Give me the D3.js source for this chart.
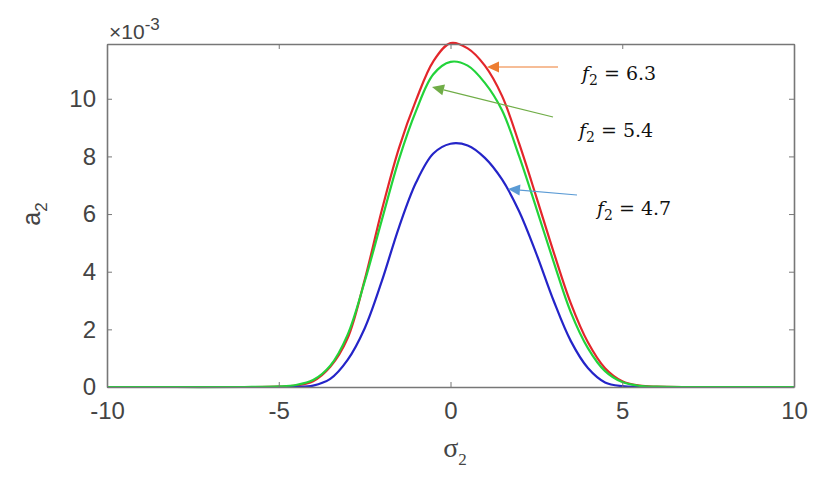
<!DOCTYPE html>
<html><head><meta charset="utf-8">
<script src="https://cdn.jsdelivr.net/npm/d3@7"></script>
<style>body{margin:0;background:#fff}svg{display:block}</style>
</head><body><svg id="c" width="830" height="477"></svg>
<script>
const xs = [-10,-8,-6,-5,-4.5,-4,-3.5,-3,-2.5,-2,-1.5,-1,-0.5,0,0.5,1,1.5,2,2.5,3,3.5,4,4.5,5,5.5,6,7,8,10];
const redVals   = [0,0,0,0.01,0.05,0.2,0.7,1.68,3.71,6.13,8.29,9.96,11.3,11.93,11.75,11.15,10.1,8.44,6.59,4.69,2.91,1.55,0.65,0.2,0.05,0.01,0,0,0];
const greenVals = [0,0,0,0.02,0.07,0.24,0.74,1.8,3.65,5.79,7.9,9.59,10.85,11.28,11.15,10.55,9.6,8.0,6.2,4.35,2.6,1.35,0.55,0.17,0.04,0.01,0,0,0];
const blueVals  = [0,0,0,0,0.005,0.05,0.28,0.93,2.03,3.67,5.54,7.1,8.1,8.44,8.38,7.95,7.2,6.09,4.62,3.0,1.6,0.66,0.16,0.03,0.005,0,0,0,0];
const xTicks = [-10,-5,0,5,10];
const yTicks = [0,2,4,6,8,10];
const annLabels = ["6.3","5.4","4.7"];

const svg = d3.select("#c");
const L=107, R=794, T=44, B=387;
const x = d3.scaleLinear().domain([-10,10]).range([L,R]);
const y = d3.scaleLinear().domain([0,11.9]).range([B,T]);
const axisCol = "#777", textCol = "#444";
const sans = "Liberation Sans, Arial, sans-serif";

const g = svg.append("g");
const line = d3.line().x(d=>x(d[0])).y(d=>y(Math.max(0,d[1]))).curve(d3.curveCatmullRom.alpha(0.5));
const series = [
  {vals: redVals, col:"#e3262b"},
  {vals: blueVals, col:"#2424c8"},
  {vals: greenVals, col:"#22d33a"}
];
series.forEach(s=>{
  g.append("path").datum(xs.map((v,i)=>[v,s.vals[i]]))
   .attr("d",line).attr("fill","none").attr("stroke",s.col).attr("stroke-width",2.2);
});

const fmt = d=>String(d);
const ax = [
  {a:d3.axisBottom(x).tickValues(xTicks).tickFormat(fmt).tickSizeInner(-5).tickSizeOuter(0).tickPadding(15), t:`translate(0,${B})`, lab:true},
  {a:d3.axisTop(x).tickValues(xTicks).tickSizeInner(-5).tickSizeOuter(0), t:`translate(0,${T})`, lab:false},
  {a:d3.axisLeft(y).tickValues(yTicks).tickFormat(fmt).tickSizeInner(-5).tickSizeOuter(0).tickPadding(11), t:`translate(${L},0)`, lab:true},
  {a:d3.axisRight(y).tickValues(yTicks).tickSizeInner(-5).tickSizeOuter(0), t:`translate(${R},0)`, lab:false}
];
ax.forEach(o=>{
  const ag = svg.append("g").attr("transform",o.t).call(o.a);
  ag.select(".domain").attr("stroke",axisCol).attr("stroke-width",1.6);
  ag.selectAll(".tick line").attr("stroke",axisCol);
  ag.selectAll(".tick text").attr("fill",textCol).attr("font-family",sans).attr("font-size",24);
  if(!o.lab) ag.selectAll(".tick text").remove();
});

const ex = svg.append("text").attr("x",109).attr("y",39).attr("fill",textCol)
  .attr("font-family",sans).attr("font-size",21);
ex.append("tspan").text("×10");
ex.append("tspan").attr("dy",-9).attr("font-size",17).text("-3");

const yl = svg.append("text").attr("transform","translate(40,214) rotate(-90)")
  .attr("text-anchor","middle").attr("fill",textCol)
  .attr("font-family",sans).attr("font-size",25);
yl.append("tspan").text("a");
yl.append("tspan").attr("dy",7).attr("font-size",17).text("2");

const xl = svg.append("text").attr("x",455).attr("y",457)
  .attr("text-anchor","middle").attr("fill",textCol)
  .attr("font-family","Liberation Serif, serif").attr("font-size",28);
xl.append("tspan").text("σ");
xl.append("tspan").attr("dy",8).attr("font-size",17).text("2");

const anns = [
  {x1:558,y1:67,x2:487,y2:67,col:"#ED7D31",tx:582,ty:80},
  {x1:553,y1:117,x2:432,y2:87,col:"#70AD47",tx:579,ty:137},
  {x1:577,y1:195,x2:508,y2:189,col:"#5B9BD5",tx:597,ty:215}
];
anns.forEach((a,i)=>{
  const ang = Math.atan2(a.y2-a.y1,a.x2-a.x1);
  const hl=12, hw=5.5;
  const bx=a.x2-hl*Math.cos(ang), by=a.y2-hl*Math.sin(ang);
  svg.append("line").attr("x1",a.x1).attr("y1",a.y1).attr("x2",bx).attr("y2",by)
    .attr("stroke",a.col).attr("stroke-width",1.2);
  const px=-Math.sin(ang), py=Math.cos(ang);
  svg.append("path").attr("d",`M${a.x2},${a.y2}L${bx+hw*px},${by+hw*py}L${bx-hw*px},${by-hw*py}Z`).attr("fill",a.col);
  const t = svg.append("text").attr("x",a.tx).attr("y",a.ty).attr("fill","#111")
    .attr("font-family","DejaVu Serif, Liberation Serif, serif").attr("font-size",19);
  t.append("tspan").attr("font-style","italic").text("f");
  t.append("tspan").attr("dy",5).attr("font-size",14).text("2");
  t.append("tspan").attr("dy",-5).text(" = "+annLabels[i]);
});
</script></body></html>
